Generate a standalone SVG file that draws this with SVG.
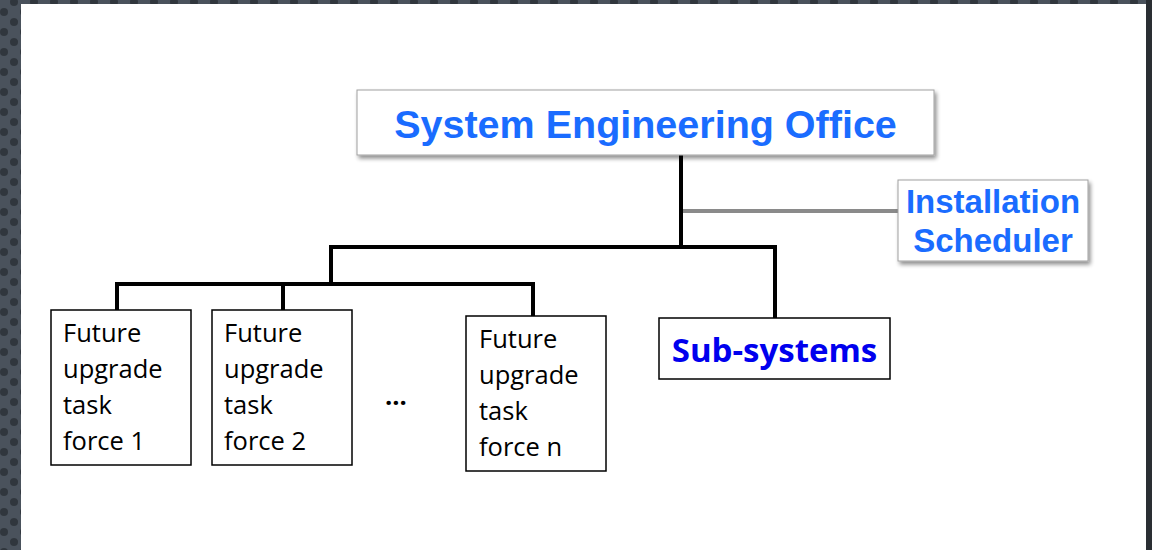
<svg xmlns="http://www.w3.org/2000/svg" width="1152" height="550" viewBox="0 0 1152 550">
  <defs>
    <pattern id="dots" width="20" height="20" patternUnits="userSpaceOnUse">
      <rect width="20" height="20" fill="#4a525c"/>
      <circle cx="4" cy="12" r="4" fill="#30363d"/>
      <circle cx="14" cy="2" r="4" fill="#30363d"/>
      <circle cx="14" cy="22" r="4" fill="#30363d"/>
    </pattern>
    <filter id="shadow" x="-10%" y="-20%" width="125%" height="150%">
      <feGaussianBlur in="SourceAlpha" stdDeviation="2"/>
      <feOffset dx="2" dy="3"/>
      <feComponentTransfer><feFuncA type="linear" slope="0.45"/></feComponentTransfer>
      <feMerge><feMergeNode/><feMergeNode in="SourceGraphic"/></feMerge>
    </filter>
  </defs>
  <style>
    .shadowbox { fill: #ffffff; stroke: #a0a0a0; stroke-width: 1; filter: url(#shadow); }
    .plainbox { fill: #ffffff; stroke: #000000; stroke-width: 1.5; }
    .title { font-family: "Liberation Sans", Arial, sans-serif; font-weight: bold; fill: #1a6cff; text-anchor: middle; }
    .task { font-family: "Open Sans", "Noto Sans", sans-serif; font-size: 25.5px; fill: #000000; }
    .sub { font-family: "Open Sans", "Noto Sans", sans-serif; font-weight: bold; font-size: 33px; fill: #0000ee; text-anchor: middle; }
    .wire { stroke: #000000; stroke-width: 4; fill: none; }
    .wire-grey { stroke: #8a8a8a; stroke-width: 4; fill: none; }
  </style>

  <!-- slide frame -->
  <rect width="1152" height="550" fill="url(#dots)"/>
  <rect x="1146" y="0" width="6" height="550" fill="#2a2e33"/>
  <rect x="21" y="4" width="1125" height="546" fill="#ffffff"/>

  <!-- connectors -->
  <g id="connectors">
    <path class="wire-grey" d="M681 211 H898"/>
    <path class="wire" d="M681 155 V249"/>
    <path class="wire" d="M331 284 V247 H775 V318"/>
    <path class="wire" d="M117 310 V284 H533 V316"/>
    <path class="wire" d="M283 284 V310"/>
  </g>

  <g id="seo">
    <rect class="shadowbox" x="357" y="90" width="577" height="65"/>
    <text class="title" x="645.5" y="138" font-size="39.5">System Engineering Office</text>
  </g>

  <g id="installation-scheduler">
    <rect class="shadowbox" x="898" y="180" width="190" height="81"/>
    <text class="title" x="993" y="213" font-size="33">Installation</text>
    <text class="title" x="993" y="252" font-size="33">Scheduler</text>
  </g>

  <g id="task-force-1">
    <rect class="plainbox" x="51" y="310" width="140" height="155"/>
    <text class="task" x="63" y="342">Future</text>
    <text class="task" x="63" y="378">upgrade</text>
    <text class="task" x="63" y="414">task</text>
    <text class="task" x="63" y="450">force 1</text>
  </g>

  <g id="task-force-2">
    <rect class="plainbox" x="212" y="310" width="140" height="155"/>
    <text class="task" x="224" y="342">Future</text>
    <text class="task" x="224" y="378">upgrade</text>
    <text class="task" x="224" y="414">task</text>
    <text class="task" x="224" y="450">force 2</text>
  </g>

  <g id="ellipsis">
    <text class="task" x="385" y="405" font-weight="bold" font-size="27">...</text>
  </g>

  <g id="task-force-n">
    <rect class="plainbox" x="466" y="316" width="140" height="155"/>
    <text class="task" x="479" y="348">Future</text>
    <text class="task" x="479" y="384">upgrade</text>
    <text class="task" x="479" y="420">task</text>
    <text class="task" x="479" y="456">force n</text>
  </g>

  <g id="sub-systems">
    <rect class="plainbox" x="659" y="318" width="231" height="61"/>
    <text class="sub" x="774.5" y="362">Sub-systems</text>
  </g>
</svg>
